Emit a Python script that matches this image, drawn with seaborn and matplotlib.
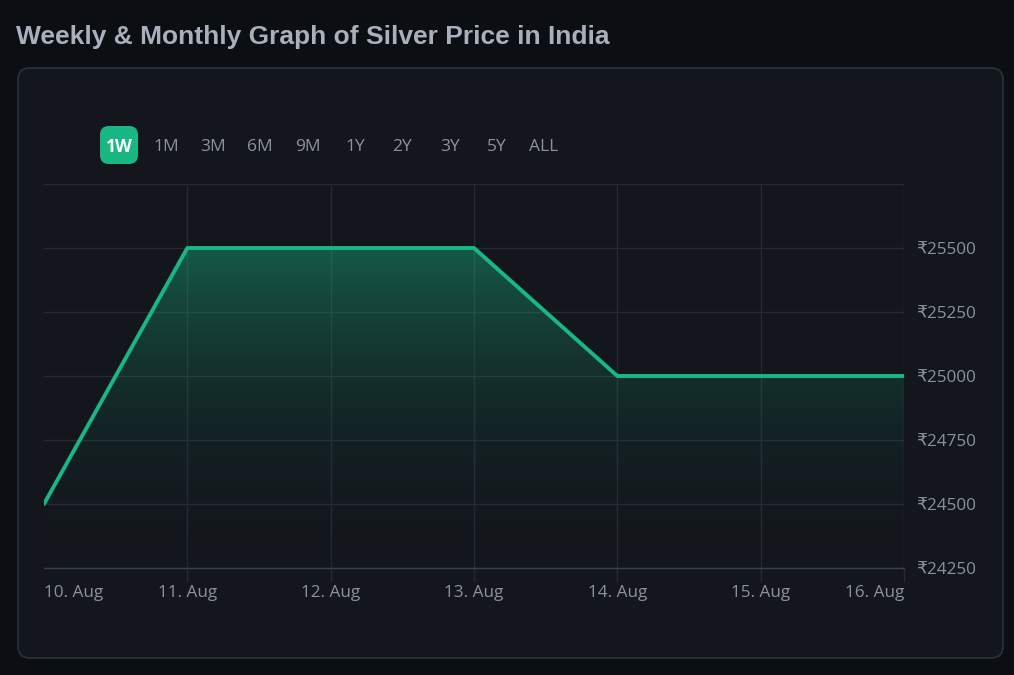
import numpy as np
import pandas as pd
import matplotlib
matplotlib.use("Agg")
import matplotlib.pyplot as plt
import matplotlib.dates as mdates
from matplotlib.colors import LinearSegmentedColormap
from matplotlib.patches import FancyBboxPatch
import seaborn as sns

# Data
dates = ["2024-08-10", "2024-08-11", "2024-08-12", "2024-08-13",
         "2024-08-14", "2024-08-15", "2024-08-16"]
prices = [24500, 25500, 25500, 25500, 25000, 25000, 25000]
y_ticks = [24250, 24500, 24750, 25000, 25250, 25500]
ranges = ["1W", "1M", "3M", "6M", "9M", "1Y", "2Y", "3Y", "5Y", "ALL"]
title = "Weekly & Monthly Graph of Silver Price in India"

df = pd.DataFrame({"date": pd.to_datetime(dates), "price": prices})

sns.set_theme(style="dark")
plt.rcParams["font.family"] = ["Open Sans", "DejaVu Sans"]

green = "#19b784"
text_gray = "#8b929d"
grid_col = "#262b33"

fig = plt.figure(figsize=(10.14, 6.75), dpi=100)
fig.patch.set_facecolor("#0b0e13")

# background layer in pixel coordinates
bg = fig.add_axes([0, 0, 1, 1])
bg.set_xlim(0, 1014)
bg.set_ylim(675, 0)
bg.axis("off")
card = FancyBboxPatch((18, 68), 985, 590, boxstyle="round,pad=0,rounding_size=12",
                      facecolor="#13161c", edgecolor="#29323b", linewidth=1.2)
bg.add_patch(card)
bg.text(16, 37, title, fontsize=19, fontweight="bold", color="#a9b0bb",
        family=["Liberation Sans", "DejaVu Sans"], va="center", ha="left")

# range buttons
btn_x = [119, 166, 213, 260, 308, 355, 402, 450, 497, 544]
for lab, bx in zip(ranges, btn_x):
    if lab == "1W":
        bg.add_patch(FancyBboxPatch((100, 126), 38, 38,
                                    boxstyle="round,pad=0,rounding_size=9",
                                    facecolor=green, edgecolor="none"))
        bg.text(bx, 147, lab, fontsize=12.5, fontweight="bold", color="white",
                ha="center", va="center")
    else:
        bg.text(bx, 147, lab, fontsize=12.5, color=text_gray, ha="center", va="center")

# main chart
ax = fig.add_axes([44 / 1014, 1 - 568 / 675, 860 / 1014, 384 / 675])
ax.set_facecolor("none")

ymin, ymax = 24250, 25750
x0, x1 = df["date"].min(), df["date"].max()

fill = ax.fill_between(df["date"], df["price"], ymin, color="none", linewidth=0)
cmap = LinearSegmentedColormap.from_list(
    "g", [(0.08, 0.12, 0.15, 0.0), (0.10, 0.72, 0.52, 0.42)])
grad = np.linspace(0, 1, 256).reshape(-1, 1)
img = ax.imshow(grad, cmap=cmap, aspect="auto", origin="lower",
                extent=[mdates.date2num(x0), mdates.date2num(x1), ymin, 25500],
                zorder=1)
img.set_clip_path(fill.get_paths()[0], transform=ax.transData)

sns.lineplot(data=df, x="date", y="price", ax=ax, color=green, linewidth=2.8,
             zorder=3)

ax.set_xlim(x0, x1)
ax.set_ylim(ymin, ymax)
ax.set_xticks(df["date"])
ax.set_xticklabels([d.strftime("%d. %b") for d in df["date"]])
ax.set_yticks(y_ticks + [25750])
ax.set_yticklabels(["\u20b9" + str(v) for v in y_ticks] + [""])
ax.yaxis.tick_right()
ax.grid(True, color=grid_col, linewidth=1)
ax.xaxis.get_gridlines()[0].set_visible(False)
ax.set_xlabel("")
ax.set_ylabel("")
for side in ["top", "left", "right"]:
    ax.spines[side].set_visible(False)
ax.spines["bottom"].set_color("#3b414b")
ax.spines["bottom"].set_linewidth(1)
ax.tick_params(axis="x", colors=text_gray, labelsize=12.3, length=10,
               width=1, direction="out", pad=2, bottom=True)
ax.tick_params(axis="x", color=grid_col)
ax.tick_params(axis="y", colors=text_gray, labelsize=12.3, length=0, pad=9)
ax.xaxis.get_ticklines()[0].set_visible(False)

# first/last x labels align inside
labels = ax.get_xticklabels()
labels[0].set_ha("left")
labels[-1].set_ha("right")

fig.savefig("out.png", dpi=100, facecolor=fig.get_facecolor())
